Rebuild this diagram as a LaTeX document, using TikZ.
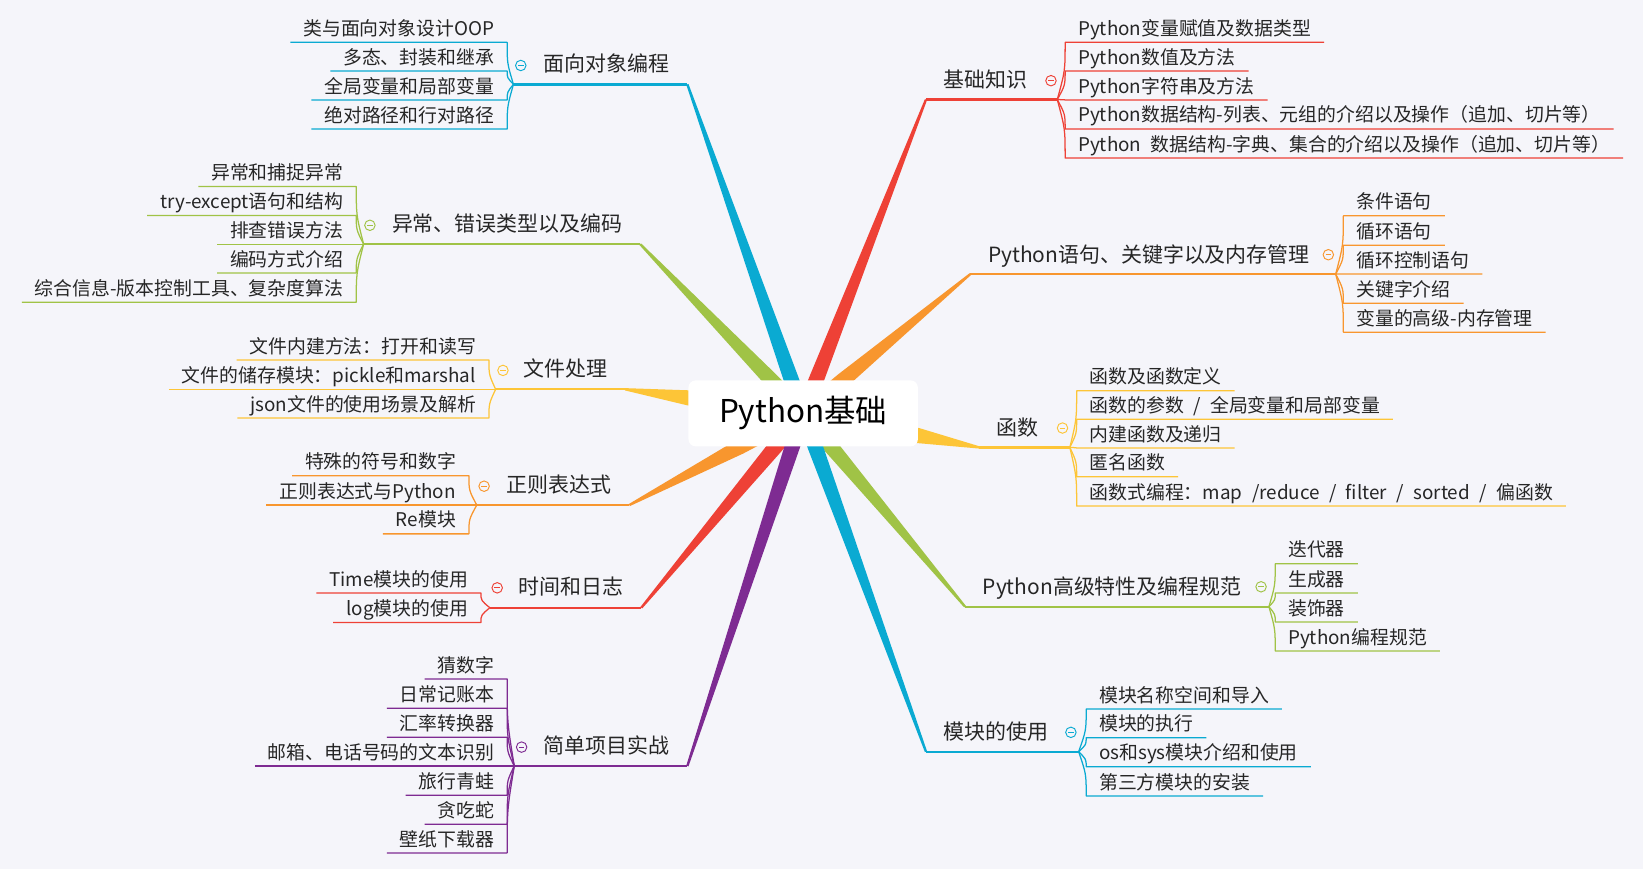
\documentclass[tikz,border=0pt]{standalone}
\usepackage{fontspec}
\setmainfont{Noto Sans CJK SC}
\usetikzlibrary{calc, backgrounds}

\definecolor{cyanB}{RGB}{10,170,210}
\definecolor{greenB}{RGB}{160,195,70}
\definecolor{yellowB}{RGB}{253,197,55}
\definecolor{orangeB}{RGB}{248,150,46}
\definecolor{redB}{RGB}{238,65,54}
\definecolor{purpleB}{RGB}{126,43,146}
\definecolor{bgcol}{RGB}{245,245,250}

\begin{document}
\begin{tikzpicture}[
  x=0.5pt, y=-0.5pt,
  hub/.style    ={fill=white, rounded corners=3.5pt, minimum width=109.5pt,
                  minimum height=31.5pt, inner sep=0pt,
                  font=\fontsize{15pt}{18pt}\selectfont},
  topicL/.style ={anchor=east, inner sep=0pt, text height=8pt, text depth=0.4pt,
                  text=black!85, font=\fontsize{10pt}{12pt}\selectfont},
  topicR/.style ={topicL, anchor=west},
  itemL/.style  ={anchor=south east, inner xsep=6pt, inner ysep=1.7pt,
                  text height=7.2pt, text depth=1.4pt, text=black!85,
                  font={\fontsize{9pt}{11pt}\selectfont\spaceskip=4.5pt\relax}},
  itemR/.style  ={itemL, anchor=south west},
  trunk/.style  ={line width=1.1pt},
  twig/.style   ={line width=0.6pt, line join=round},
  knob/.style   ={circle, draw=#1, line width=0.45pt, minimum size=5pt, inner sep=0pt,
                  path picture={\draw[#1, line width=0.45pt]
                    ($(path picture bounding box.center)+(-1.3pt,0)$) -- ++(2.6pt,0);}},
]
\useasboundingbox (0,0) rectangle (1568,829);

% ================= centre =================
\node[hub] (hub) at (766.5,394.5) {Python基础};

% ================= left: 面向对象编程 =================
\coordinate (oopJ) at (490,80.5);
\coordinate (oopE) at (656,80.5);
\draw[trunk, cyanB] (oopJ) -- (oopE);
\node[topicL] (oop) at ($(oopE)+(-16.5,-19.5)$) {面向对象编程};
\node[knob=cyanB] (oopK) at ($(oopJ)+(7,-18)$) {};
\foreach \y/\t [count=\i] in {40.4/类与面向对象设计OOP, 67.8/多态、封装和继承,
    95.4/全局变量和局部变量, 123.1/绝对路径和行对路径}{
  \node[itemL] (oop\i) at (484,\y) {\t};
  \draw[twig, cyanB] (oop\i.south west) -- (oop\i.south east)
    .. controls ($(oop\i.south east)!0.5!(oop\i.south east |- oopJ)$) .. (oopJ);
}

% ================= left: 异常、错误类型以及编码 =================
\coordinate (excJ) at (347,233);
\coordinate (excE) at (611,233);
\draw[trunk, greenB] (excJ) -- (excE);
\node[topicL] (exc) at ($(excE)+(-16.5,-19.5)$) {异常、错误类型以及编码};
\node[knob=greenB] (excK) at ($(excJ)+(6,-18)$) {};
\foreach \y/\t [count=\i] in {178/异常和捕捉异常, 205.6/try-except语句和结构,
    233/排查错误方法, 260.6/编码方式介绍, 288.5/综合信息-版本控制工具、复杂度算法}{
  \node[itemL] (exc\i) at (340,\y) {\t};
  \draw[twig, greenB] (exc\i.south west) -- (exc\i.south east)
    .. controls ($(exc\i.south east)!0.5!(exc\i.south east |- excJ)$) .. (excJ);
}

% ================= left: 文件处理 =================
\coordinate (fileJ) at (473,371.5);
\coordinate (fileE) at (596.5,371.5);
\draw[trunk, yellowB] (fileJ) -- (fileE);
\node[topicL] (file) at ($(fileE)+(-16.5,-19.5)$) {文件处理};
\node[knob=yellowB] (fileK) at ($(fileJ)+(7,-18)$) {};
\foreach \y/\t [count=\i] in {343.6/文件内建方法：打开和读写,
    371.5/文件的储存模块：pickle和marshal, 399/json文件的使用场景及解析}{
  \node[itemL] (file\i) at (466.6,\y) {\t};
  \draw[twig, yellowB] (file\i.south west) -- (file\i.south east)
    .. controls ($(file\i.south east)!0.5!(file\i.south east |- fileJ)$) .. (fileJ);
}

% ================= left: 正则表达式 =================
\coordinate (reJ) at (455,482);
\coordinate (reE) at (600.6,482);
\draw[trunk, orangeB] (reJ) -- (reE);
\node[topicL] (re) at ($(reE)+(-16.5,-19.5)$) {正则表达式};
\node[knob=orangeB] (reK) at ($(reJ)+(7,-18)$) {};
\foreach \y/\t [count=\i] in {454/特殊的符号和数字, 482/正则表达式与Python, 509.5/Re模块}{
  \node[itemL] (re\i) at (447.5,\y) {\t};
  \draw[twig, orangeB] (re\i.south west) -- (re\i.south east)
    .. controls ($(re\i.south east)!0.5!(re\i.south east |- reJ)$) .. (reJ);
}

% ================= left: 时间和日志 =================
\coordinate (timeJ) at (467.5,580);
\coordinate (timeE) at (612,580);
\draw[trunk, redB] (timeJ) -- (timeE);
\node[topicL] (time) at ($(timeE)+(-16.5,-20)$) {时间和日志};
\node[knob=redB] (timeK) at ($(timeJ)+(7,-19)$) {};
\foreach \y/\t [count=\i] in {566/Time模块的使用, 594/log模块的使用}{
  \node[itemL] (time\i) at (459,\y) {\t};
  \draw[twig, redB] (time\i.south west) -- (time\i.south east)
    .. controls ($(time\i.south east)!0.5!(time\i.south east |- timeJ)$) .. (timeJ);
}

% ================= left: 简单项目实战 =================
\coordinate (projJ) at (490.8,731);
\coordinate (projE) at (656,731);
\draw[trunk, purpleB] (projJ) -- (projE);
\node[topicL] (proj) at ($(projE)+(-16.5,-19.5)$) {简单项目实战};
\node[knob=purpleB] (projK) at ($(projJ)+(7,-18)$) {};
\foreach \y/\t [count=\i] in {648/猜数字, 676/日常记账本, 703.5/汇率转换器,
    731/邮箱、电话号码的文本识别, 759/旅行青蛙, 786.5/贪吃蛇, 814/壁纸下载器}{
  \node[itemL] (proj\i) at (484,\y) {\t};
  \draw[twig, purpleB] (proj\i.south west) -- (proj\i.south east)
    .. controls ($(proj\i.south east)!0.5!(proj\i.south east |- projJ)$) .. (projJ);
}

% ================= right: 基础知识 =================
\coordinate (basicJ) at (1009,95);
\coordinate (basicS) at (883.7,95);
\draw[trunk, redB] (basicS) -- (basicJ);
\node[topicR] (basic) at ($(basicS)+(16.5,-19)$) {基础知识};
\node[knob=redB] (basicK) at ($(basicJ)+(-6,-18)$) {};
\foreach \y/\t [count=\i] in {40.4/Python变量赋值及数据类型, 67.8/Python数值及方法,
    95.4/Python字符串及方法,
    123/Python数据结构-列表、元组的介绍以及操作（追加、切片等）,
    150.8/Python 数据结构-字典、集合的介绍以及操作（追加、切片等）}{
  \node[itemR] (basic\i) at (1016.5,\y) {\t};
  \draw[twig, redB] (basicJ)
    .. controls ($(basic\i.south west)!0.5!(basic\i.south west |- basicJ)$) .. (basic\i.south west)
    -- (basic\i.south east);
}

% ================= right: Python语句、关键字以及内存管理 =================
\coordinate (stmtJ) at (1274.7,261.6);
\coordinate (stmtS) at (926,261.6);
\draw[trunk, orangeB] (stmtS) -- (stmtJ);
\node[topicR] (stmt) at ($(stmtS)+(16.5,-19)$) {Python语句、关键字以及内存管理};
\node[knob=orangeB] (stmtK) at ($(stmtJ)+(-7,-18.5)$) {};
\foreach \y/\t [count=\i] in {206/条件语句, 234/循环语句, 261.6/循环控制语句,
    289.5/关键字介绍, 317/变量的高级-内存管理}{
  \node[itemR] (stmt\i) at (1282,\y) {\t};
  \draw[twig, orangeB] (stmtJ)
    .. controls ($(stmt\i.south west)!0.5!(stmt\i.south west |- stmtJ)$) .. (stmt\i.south west)
    -- (stmt\i.south east);
}

% ================= right: 函数 =================
\coordinate (funcJ) at (1021,427);
\coordinate (funcS) at (934.5,427);
\draw[trunk, yellowB] (funcS) -- (funcJ);
\node[topicR] (func) at ($(funcS)+(16.5,-19)$) {函数};
\node[knob=yellowB] (funcK) at ($(funcJ)+(-7,-18.5)$) {};
\foreach \y/\t [count=\i] in {372.9/函数及函数定义, 400/{函数的参数 / 全局变量和局部变量},
    427.6/内建函数及递归, 455/匿名函数,
    483/{函数式编程：map  /reduce / filter / sorted / 偏函数}}{
  \node[itemR] (func\i) at (1027.5,\y) {\t};
  \draw[twig, yellowB] (funcJ)
    .. controls ($(func\i.south west)!0.5!(func\i.south west |- funcJ)$) .. (func\i.south west)
    -- (func\i.south east);
}

% ================= right: Python高级特性及编程规范 =================
\coordinate (advJ) at (1211,579);
\coordinate (advS) at (921,579);
\draw[trunk, greenB] (advS) -- (advJ);
\node[topicR] (adv) at ($(advS)+(16.5,-19)$) {Python高级特性及编程规范};
\node[knob=greenB] (advK) at ($(advJ)+(-7.5,-19)$) {};
\foreach \y/\t [count=\i] in {538/迭代器, 566/生成器, 593.6/装饰器, 621.3/Python编程规范}{
  \node[itemR] (adv\i) at (1217,\y) {\t};
  \draw[twig, greenB] (advJ)
    .. controls ($(adv\i.south west)!0.5!(adv\i.south west |- advJ)$) .. (adv\i.south west)
    -- (adv\i.south east);
}

% ================= right: 模块的使用 =================
\coordinate (modJ) at (1029.4,717.4);
\coordinate (modS) at (883.7,717.4);
\draw[trunk, cyanB] (modS) -- (modJ);
\node[topicR] (mod) at ($(modS)+(16.5,-19.5)$) {模块的使用};
\node[knob=cyanB] (modK) at ($(modJ)+(-7.4,-18.5)$) {};
\foreach \y/\t [count=\i] in {676.7/模块名称空间和导入, 704/模块的执行,
    731.7/os和sys模块介绍和使用, 759.7/第三方模块的安装}{
  \node[itemR] (mod\i) at (1036.6,\y) {\t};
  \draw[twig, cyanB] (modJ)
    .. controls ($(mod\i.south west)!0.5!(mod\i.south west |- modJ)$) .. (mod\i.south west)
    -- (mod\i.south east);
}

% tapered branches from the centre, kept under the centre box
\begin{scope}[on background layer]
  \fill[bgcol] (0,0) rectangle (1568,829);
  \foreach \e/\c in {oopE/cyanB, excE/greenB, fileE/yellowB, reE/orangeB,
                     timeE/redB, projE/purpleB, basicS/redB, stmtS/orangeB,
                     funcS/yellowB, advS/greenB, modS/cyanB}{
    \path (\e) -- (hub) coordinate[pos=1] (rim);
    \fill[\c] ($(hub.center)!3.6pt!90:(\e)$) -- ($(rim)!3.6pt!90:(\e)$)
      -- ($(\e)!0.55pt!-90:(rim)$) -- ($(\e)!0.55pt!90:(rim)$)
      -- ($(rim)!3.6pt!-90:(\e)$) -- ($(hub.center)!3.6pt!-90:(\e)$) -- cycle;
  }
\end{scope}

\end{tikzpicture}
\end{document}
